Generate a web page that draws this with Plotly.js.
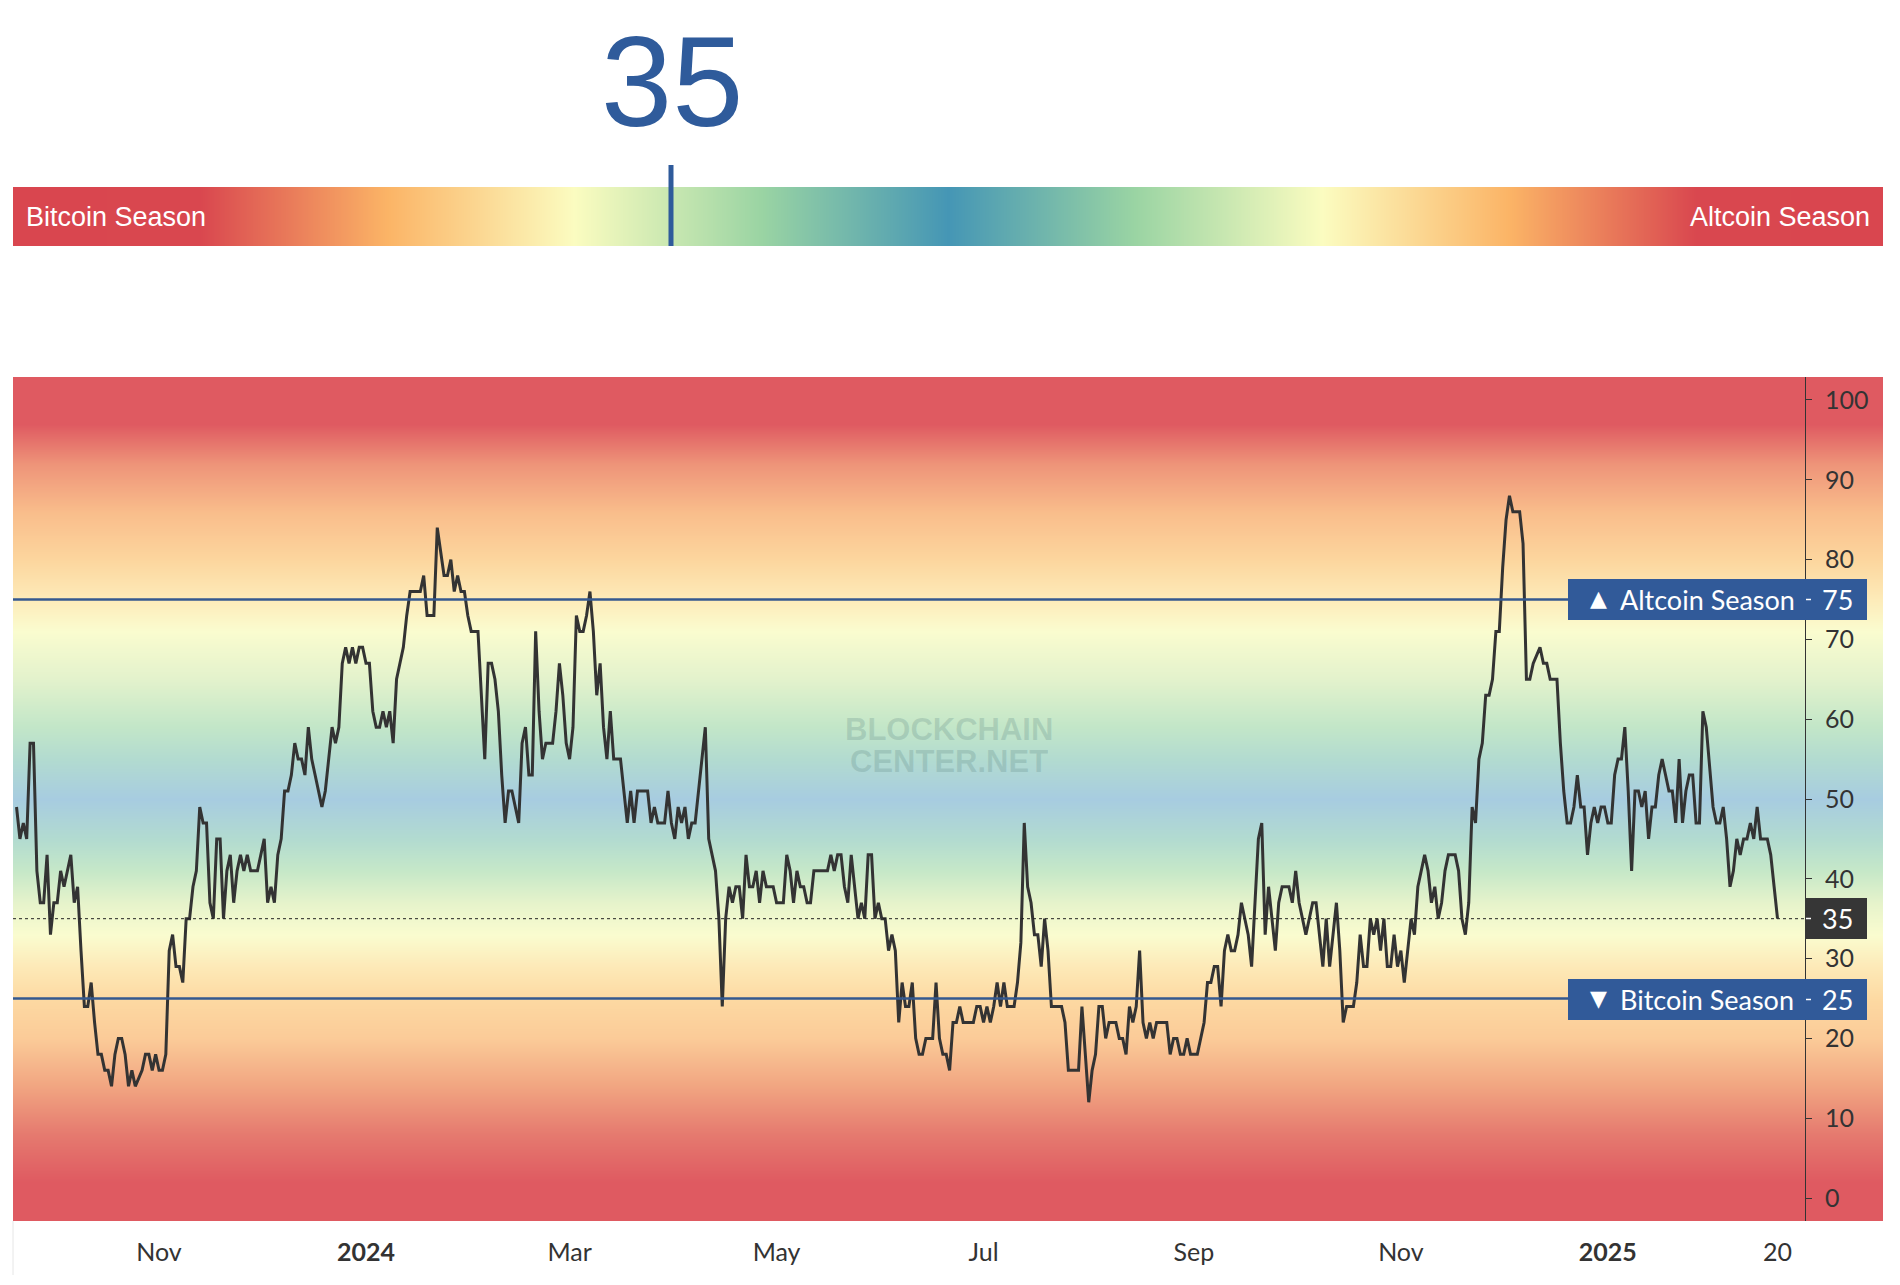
<!DOCTYPE html>
<html>
<head>
<meta charset="utf-8">
<script src="https://cdn.plot.ly/plotly-3.0.1.min.js"></script>
<style>
  html, body { margin: 0; padding: 0; background: #ffffff; }
  #chart { width: 1900px; height: 1285px; }
</style>
</head>
<body>
<div id="chart"></div>
<script>
// ---------------- DATA ----------------
// Days counted from 2024-01-01 (negative = 2023)
const dayOffsets = [
  -103,-102,-101,-100,-99,-98,-97,-96,-95,-94,-93,-92,-91,-90,-89,-88,-87,-86,-85,-84,
  -83,-82,-81,-80,-79,-78,-77,-76,-75,-74,-73,-72,-71,-70,-69,-68,
  -66,-65,-64,-63,-62,-61,-60,-59,-58,-57,-56,-55,-54,-53,-52,-51,-50,-49,-48,-47,
  -46,-45,-44,-43,-42,-41,-40,-39,-38,-37,-36,-35,-34,
  -32,
  -30,-29,-28,-27,-26,-25,-24,-23,-22,-21,-20,-19,-18,-17,-16,-15,
  -13,-12,-11,-10,-9,-8,-7,-6,-5,-4,-3,-2,-1,0,1,2,3,4,5,6,7,8,9,10,11,12,13,14,
  16,17,18,19,20,21,
  23,24,25,26,27,28,29,30,31,
  33,34,35,36,37,38,39,40,41,42,43,45,46,47,48,49,50,51,52,53,55,56,57,58,59,60,
  61,62,63,64,65,66,67,68,69,70,71,72,73,75,76,77,78,79,80,83,84,85,86,88,89,90,
  91,92,93,94,95,96,97,98,99,100,101,102,103,104,105,106,107,108,109,110,111,112,
  113,114,115,116,117,118,120,121,123,124,125,126,127,128,129,130,131,132,136,137,
  138,139,140,141,142,143,144,145,146,147,148,149,150,151,152,153,154,155,156,157,
  158,159,160,161,
  162,163,164,165,167,168,169,170,171,172,173,174,175,176,179,180,181,182,183,184,
  185,186,187,188,189,191,192,193,194,195,196,197,198,199,200,201,202,205,206,207,
  210,211,213,214,215,216,217,218,219,221,222,223,224,225,226,227,228,229,230,231,
  232,233,236,237,238,239,240,241,242,243,245,246,247,248,249,250,251,252,253,254,
  255,256,257,258,260,261,262,263,264,265,266,267,268,269,270,271,272,273,274,275,
  276,277,278,279,280,281,282,283,284,285,286,287,288,289,291,292,
  293,294,295,296,297,298,299,300,301,302,303,304,305,306,307,308,309,310,312,313,
  314,315,316,317,318,319,321,322,323,324,325,326,327,328,329,330,331,332,333,334,
  335,336,337,338,339,340,341,342,343,344,346,347,348,349,351,352,353,354,355,356,
  357,358,359,360,361,362,363,364,365,366,367,368,369,370,371,372,373,374,375,376,
  377,378,379,380,381,382,383,384,385,386,387,388,389,390,391,392,393,394,395,397,
  398,399,400,401,402,403,404,405,406,407,408,409,410,411,413,414,415,416
];
const altcoinSeasonIndex = [
  49,45,47,45,57,57,41,37,37,43,33,37,37,41,39,41,43,37,39,31,
  24,24,27,22,18,18,16,16,14,18,20,20,18,14,16,14,
  16,18,18,16,18,16,16,18,31,33,29,29,27,35,35,39,41,49,47,47,
  37,35,45,45,35,41,43,37,41,43,41,43,41,
  41,
  45,37,39,37,43,45,51,51,53,57,55,55,53,59,55,53,
  49,51,55,59,57,59,67,69,67,69,67,69,69,67,67,61,59,59,61,59,61,57,65,67,69,73,76,76,
  76,78,73,73,73,84,
  78,78,80,76,78,76,76,73,71,
  71,63,55,67,67,65,61,53,47,51,51,47,57,59,53,53,71,61,55,57,57,61,67,63,57,55,
  59,73,71,71,73,76,71,63,67,59,55,61,55,55,51,47,51,47,51,51,47,49,47,47,51,47,
  45,49,47,49,45,47,47,51,55,59,45,43,41,35,24,35,39,37,39,39,35,43,
  39,39,41,37,41,39,39,37,37,43,41,37,41,39,39,37,37,41,41,43,
  41,43,43,39,37,43,39,35,37,35,43,43,35,37,35,35,31,33,31,22,
  27,24,24,27,
  20,18,18,20,20,27,20,18,18,16,22,22,24,22,22,24,24,22,24,22,
  24,27,24,27,24,24,27,32,47,39,37,33,33,29,35,31,24,24,22,16,
  16,24,12,16,18,24,24,20,22,22,20,20,18,24,22,24,31,22,20,22,
  20,22,22,18,20,20,18,18,20,18,18,20,22,27,27,29,29,24,31,33,
  31,31,33,37,33,29,37,45,47,33,39,35,31,37,39,39,39,37,41,37,
  35,33,35,37,37,33,29,35,29,33,37,31,22,24,24,27,
  33,29,29,35,33,35,31,35,29,29,33,29,31,27,31,35,33,39,43,41,
  37,39,35,37,41,43,43,41,35,33,37,49,47,55,57,63,63,65,71,71,
  79,85,88,86,86,86,82,65,65,67,69,67,67,65,65,57,51,47,47,49,
  53,49,49,43,47,49,47,49,49,47,47,53,55,55,59,51,41,51,51,49,
  51,45,49,49,53,55,53,51,51,47,55,47,51,53,53,47,47,61,59,49,
  47,47,49,45,39,41,45,43,45,45,47,45,49,45,45,43,39,35
];
const currentValue = 35;
const altcoinThreshold = 75;
const bitcoinThreshold = 25;
const yTickValues = [0,10,20,30,40,50,60,70,80,90,100];
const xTickDates = ['2023-11-01','2024-01-01','2024-03-01','2024-05-01','2024-07-01','2024-09-01','2024-11-01','2025-01-01','2025-02-20'];
const xTickLabels = ['Nov','<b>2024</b>','Mar','May','Jul','Sep','Nov','<b>2025</b>','20'];

// ---------------- helpers ----------------
function dayToDate(d) {
  const t = new Date(Date.UTC(2024, 0, 1) + d * 86400000);
  return t.toISOString().replace('T', ' ').replace('Z', '');
}
const W = 1900, H = 1285;
const px = x => x / W;
const py = y => 1 - y / H;

const xDates = dayOffsets.map(d => dayToDate(d).slice(0, 10));

// Background vertical gradient (value -> colour)
const bgStops = [
  [-10,'#df5a61'],[2,'#df5a61'],[8,'#e57a6f'],[14,'#f1a581'],[20,'#fbcb98'],[25,'#fdd9a2'],
  [29,'#fde9b7'],[33,'#fafccf'],[37,'#e6f3cb'],[41,'#c6e8c8'],[45,'#b2dbd0'],[50,'#a7cce0'],
  [55,'#b2dbd0'],[59,'#c2e6c8'],[65,'#e3f2cc'],[71,'#fafccf'],[75,'#fdebb9'],[80,'#fcd69e'],
  [86,'#f9bd8b'],[92,'#ee9479'],[97,'#df5a61'],[110,'#df5a61']
];
const bgScale = bgStops.map(s => [(s[0] + 10) / 120, s[1]]);
const bgY = [], bgZ = [];
for (let v = -10; v <= 110; v += 1) { bgY.push(v); bgZ.push([v, v]); }

// Top bar horizontal gradient
const barScale = [
  [0,'#d9464f'],[0.1,'#d9474f'],[0.2,'#fbb466'],[0.3,'#fbfcc0'],[0.4,'#9ad4a3'],[0.5,'#4596b5'],
  [0.6,'#9ad4a3'],[0.7,'#fbfcc0'],[0.8,'#fbb466'],[0.9,'#d9474f'],[1,'#d9464f']
];
const barX = []; for (let i = 0; i <= 100; i++) barX.push(i);

const yLo = -2.88, yHi = 102.88;
const tickFont = { family: 'Lato, "Trebuchet MS", "DejaVu Sans", sans-serif', size: 25, color: '#333333' };
const labelFont = { family: 'Lato, "Trebuchet MS", "DejaVu Sans", sans-serif', size: 27, color: '#ffffff' };
const triFont = { family: '"DejaVu Sans", sans-serif', size: 22, color: '#ffffff' };
const wmFont = { family: '"Liberation Sans", Arial, sans-serif', size: 31, weight: 'bold', color: 'rgba(80,120,120,0.22)' };

const traces = [
  { // plot background gradient
    type: 'heatmap', x: [0, 1], y: bgY, z: bgZ, zmin: -10, zmax: 110,
    colorscale: bgScale, showscale: false, zsmooth: 'best', hoverinfo: 'skip',
    xaxis: 'x', yaxis: 'y'
  },
  { // top gradient bar
    type: 'heatmap', x: barX, y: [0, 1], z: [barX, barX], zmin: 0, zmax: 100,
    colorscale: barScale, showscale: false, zsmooth: 'best', hoverinfo: 'skip',
    xaxis: 'x3', yaxis: 'y3'
  },
  { // index line
    type: 'scatter', mode: 'lines', x: xDates, y: altcoinSeasonIndex,
    line: { color: '#333333', width: 3 }, xaxis: 'x2', yaxis: 'y2', hoverinfo: 'x+y'
  }
];

const boxL = 1568, boxR = 1867;
function boxShape(y0, y1, color, x0) {
  return { type: 'rect', xref: 'paper', yref: 'paper', x0: px(x0 || boxL), x1: px(boxR),
           y0: py(y1), y1: py(y0), fillcolor: color, line: { width: 0 }, layer: 'above' };
}
function dash(yc) {
  return { type: 'line', xref: 'paper', yref: 'paper', x0: px(1806), x1: px(1811),
           y0: py(yc), y1: py(yc), line: { color: '#ffffff', width: 1.5 }, layer: 'above' };
}
function ann(x, y, text, font, anchor, h) {
  const a = { xref: 'paper', yref: 'paper', x: px(x), y: py(y), xanchor: anchor || 'left', yanchor: 'middle',
           text: text, showarrow: false, font: font };
  if (h) { a.height = h; a.valign = 'middle'; }
  return a;
}

const layout = {
  width: W, height: H,
  margin: { l: 0, r: 0, t: 0, b: 0 },
  paper_bgcolor: '#ffffff', plot_bgcolor: 'rgba(0,0,0,0)',
  showlegend: false,
  xaxis: { domain: [px(13), px(1883)], range: [0, 1], visible: false, fixedrange: true },
  yaxis: { domain: [py(1221), py(377)], range: [yLo, yHi], visible: false, anchor: 'x' },
  xaxis2: {
    domain: [px(13), px(1805)], anchor: 'y2', type: 'date',
    range: [dayToDate(-104.04), dayToDate(424.1)],
    tickmode: 'array', tickvals: xTickDates, ticktext: xTickLabels,
    showgrid: false, zeroline: false, showline: false, ticks: '',
    tickfont: tickFont, ticklabelstandoff: 14
  },
  yaxis2: {
    domain: [py(1221), py(377)], anchor: 'x2', side: 'right', range: [yLo, yHi],
    tickmode: 'array', tickvals: yTickValues,
    showgrid: false, zeroline: false, showline: true, linecolor: '#333333', linewidth: 1,
    ticks: 'outside', ticklen: 6, tickcolor: '#333333', tickwidth: 1,
    tickfont: tickFont, ticklabelstandoff: 8
  },
  xaxis3: { domain: [px(13), px(1883)], range: [0, 100], visible: false, anchor: 'y3' },
  yaxis3: { domain: [py(246), py(187)], range: [0, 1], visible: false, anchor: 'x3' },
  shapes: [
    { type: 'line', xref: 'paper', yref: 'y2', x0: px(13), x1: px(1805), y0: altcoinThreshold, y1: altcoinThreshold,
      line: { color: '#34598f', width: 2.5 } },
    { type: 'line', xref: 'paper', yref: 'y2', x0: px(13), x1: px(1805), y0: bitcoinThreshold, y1: bitcoinThreshold,
      line: { color: '#34598f', width: 2.5 } },
    { type: 'line', xref: 'paper', yref: 'y2', x0: px(13), x1: px(1805), y0: currentValue, y1: currentValue,
      line: { color: '#222222', width: 1, dash: 'dot' } },
    // marker on the top bar
    { type: 'line', xref: 'x3', yref: 'paper', xsizemode: 'pixel', xanchor: currentValue, x0: 3.5, x1: 3.5,
      y0: py(246), y1: py(165), line: { color: '#2f5b9b', width: 5 }, layer: 'above' },
    boxShape(579, 620, '#315a99'),
    boxShape(979, 1020, '#315a99'),
    boxShape(898, 939, '#363636', 1805),
    dash(599.5), dash(999.5), dash(918.5),
    { type: 'line', xref: 'paper', yref: 'paper', x0: px(13), x1: px(13), y0: py(1221), y1: py(1275),
      line: { color: '#e6e6e6', width: 1 } }
  ],
  annotations: [
    { xref: 'paper', yref: 'paper', x: px(672), y: py(81), xanchor: 'center', yanchor: 'middle',
      text: String(currentValue), showarrow: false,
      font: { family: '"Liberation Sans", Arial, sans-serif', size: 128, color: '#2f5b9b' } },
    ann(24, 217, 'Bitcoin Season', { family: '"Liberation Sans", Arial, sans-serif', size: 27, color: '#ffffff' }),
    ann(1872, 217, 'Altcoin Season', { family: '"Liberation Sans", Arial, sans-serif', size: 27, color: '#ffffff' }, 'right'),
    ann(1588, 598, '▲', triFont),
    ann(1618, 599.5, 'Altcoin Season', labelFont),
    ann(1820, 599.5, String(altcoinThreshold), labelFont),
    ann(1588, 998, '▼', triFont),
    ann(1618, 999.5, 'Bitcoin Season', labelFont),
    ann(1820, 999.5, String(bitcoinThreshold), labelFont),
    ann(1820, 918.5, String(currentValue), labelFont),
    ann(949, 729, 'BLOCKCHAIN', wmFont, 'center', 28),
    ann(949, 761, 'CENTER.NET', wmFont, 'center', 28)
  ]
};

Plotly.newPlot('chart', traces, layout, { displayModeBar: false, staticPlot: true });
</script>
</body>
</html>
